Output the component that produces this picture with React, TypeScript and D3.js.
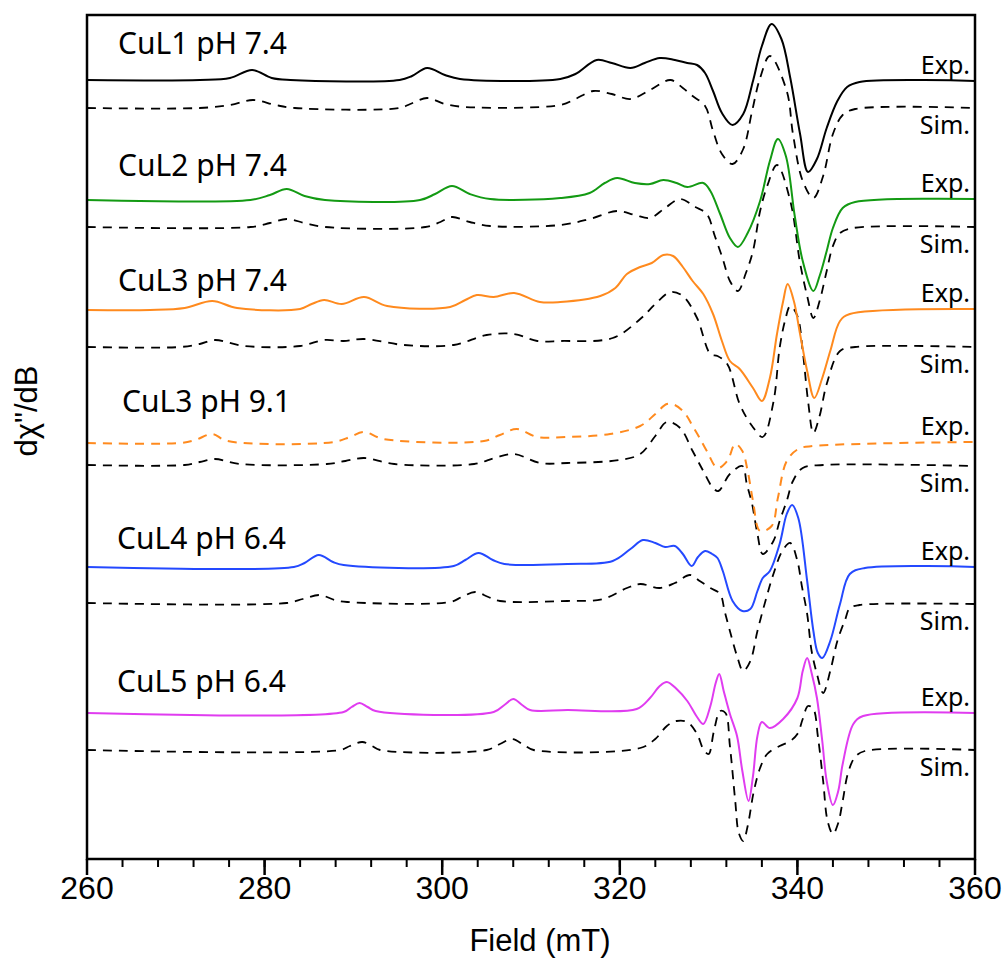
import React from "react";
import * as d3 from "d3";

// Field axis
const fieldTicks = [260, 280, 300, 320, 340, 360];
const minorTicks = d3.range(260, 361, 4);

// Spectra: [field (mT), intensity relative to baseline (a.u.)]
const cuL1Exp: [number, number][] = [
  [260, 0], [272.7, 0], [276.1, 2], [278.6, 10], [280.8, 2], [282.9, 0], [295.2, 0], [296.6, 4], [298.3, 12],
  [300.3, 5], [302, 1], [313.3, 1], [315, 6], [317.4, 20], [319.1, 17], [321.2, 12], [322.8, 17], [324.5, 22],
  [326.2, 20], [327.6, 17], [328.7, 15], [329.6, 7], [330.5, -11], [331.5, -33], [332.7, -45], [333.9, -34],
  [335, -1], [336, 34], [337.1, 56], [338.2, 41], [339.2, 2], [340.3, -54], [341.2, -92], [342.2, -79],
  [343.3, -48], [344.5, -21], [345.6, -7], [347, -2], [360, -1],
];
const cuL1Sim: [number, number][] = [
  [260, 0], [272.7, 0], [276.1, 3], [278.7, 8], [281.2, 3], [283.4, 0], [295.2, 0], [296.4, 4], [298.3, 10],
  [300.3, 4], [302.6, 1], [313.3, 3], [315, 9], [317, 17], [319.1, 14], [321.2, 9], [323.4, 18], [325.7, 28],
  [327.1, 20], [328.2, 12], [329.6, 2], [330.5, -23], [331.5, -46], [332.7, -56], [333.9, -41], [334.9, -3],
  [335.8, 30], [336.9, 52], [338.8, 17], [339.5, -26], [340.6, -73], [341.8, -90], [342.9, -68], [344, -26],
  [345.1, -7], [346.5, -1], [360, 0],
];
const cuL2Exp: [number, number][] = [
  [260, 0], [278.4, 0], [280.6, 5], [282.5, 11], [284.5, 4], [286.8, 0], [297.5, 0], [299.2, 6], [301.1, 14],
  [303.1, 6], [305.4, 1], [313.3, 2], [316.6, 7], [318.3, 17], [319.7, 22], [321.7, 17], [323.4, 16],
  [324.9, 20], [326.4, 17], [327.6, 13], [329.4, 17], [330.2, 9], [331.3, -14], [332.4, -38], [333.3, -47],
  [334.4, -33], [335.8, -1], [336.9, 39], [337.8, 61], [338.7, 44], [339.7, -16], [340.6, -61], [341.8, -91],
  [342.5, -76], [343.3, -51], [344, -28], [345.1, -8], [346.5, -2], [360, 1],
];
const cuL2Sim: [number, number][] = [
  [260, 0], [278.4, 0], [280.6, 4], [282.5, 8], [284.5, 4], [286.8, 0], [298.1, 0], [299.8, 5], [301.1, 10],
  [303.1, 5], [305.4, 1], [313.3, 2], [316.6, 8], [319.7, 16], [321.7, 12], [323.4, 9], [325.1, 19],
  [326.8, 28], [328.5, 20], [329.8, 13], [330.7, -9], [331.6, -32], [332.4, -54], [333.3, -64], [334.2, -46],
  [335, -24], [335.8, 16], [336.6, 41], [337.7, 62], [339.2, 26], [340.3, -36], [341.1, -69], [341.8, -91],
  [342.5, -74], [343.3, -44], [344, -19], [344.8, -6], [346.3, -1], [360, 0],
];
const cuL3Exp: [number, number][] = [
  [260, 0], [267.1, 0], [271, 2], [274.1, 9], [276.9, 2], [284, 1], [285.3, 6], [286.7, 10], [288.7, 6],
  [291.2, 13], [293.8, 4], [300.9, 3], [302.6, 10], [303.9, 15], [305.8, 13], [308.1, 17], [311, 8],
  [313.3, 8], [317.8, 14], [319.5, 22], [320.8, 36], [322.3, 43], [323.6, 47], [324.9, 55], [326, 54],
  [327.1, 43], [328.2, 29], [329.4, 16], [330.5, -4], [331.5, -31], [332.4, -51], [333.5, -59], [335, -78],
  [336, -91], [336.9, -68], [337.7, -24], [338.4, 9], [338.9, 26], [339.6, 9], [340.3, -24], [341.1, -61],
  [341.9, -88], [342.8, -68], [343.7, -41], [344.8, -11], [345.9, -4], [360, 1],
];
const cuL3Sim: [number, number][] = [
  [260, 0], [270.5, 0], [272.7, 3], [274.4, 7], [277.7, 1], [284, 1], [286.7, 7], [288.9, 6], [291.2, 8],
  [295.7, 2], [301.3, 2], [305, 12], [308.1, 13], [310.7, 6], [313.3, 6], [319.2, 9], [322.3, 28], [324, 43],
  [325.7, 55], [327.1, 51], [328.7, 29], [330.2, -7], [331, -9], [332.1, -17], [333.5, -57], [334.9, -79],
  [336.1, -90], [337.3, -55], [338, -1], [338.6, 26], [339.2, 41], [340, 31], [340.6, -4], [341.2, -54],
  [341.8, -86], [342.5, -69], [343.3, -37], [344.8, -4], [346.5, 0], [360, 0],
];
const cuL3hExp: [number, number][] = [
  [260, 0], [270.5, 0], [272.2, 3], [274.1, 9], [275.8, 2], [287.8, 1], [289.6, 6], [291.2, 11], [293.4, 4],
  [304.7, 2], [306.5, 8], [308.4, 14], [310.7, 6], [314.1, 6], [318.9, 9], [322.3, 17], [324, 29],
  [325.3, 39], [326.2, 38], [327.3, 30], [328.2, 17], [329, 5], [329.8, -8], [331, -25], [332.1, -18],
  [333, -1], [333.8, -8], [334.4, -28], [335, -58], [335.8, -88], [337.1, -83], [337.8, -55], [338.8, -18],
  [340.1, -6], [341.8, -3], [360, 1],
];
const cuL3hSim: [number, number][] = [
  [260, 0], [271, 0], [272.7, 3], [274.4, 6], [277.2, 1], [287, 1], [289.1, 4], [291.2, 7], [294.6, 1],
  [303.6, 1], [305.9, 7], [308.1, 11], [311, 2], [314.1, 2], [320, 5], [322.3, 11], [324, 29], [325.3, 43],
  [326.8, 37], [328.2, 14], [329.4, -6], [330.5, -23], [331.1, -26], [332.4, -9], [333.8, -1], [334.3, -19],
  [334.9, -39], [335.5, -69], [336.1, -89], [337.3, -76], [338, -56], [338.8, -36], [339.5, -16],
  [340.6, -3], [342.9, 0], [360, -1],
];
const cuL4Exp: [number, number][] = [
  [260, 0], [283.3, 0], [284.5, 4], [286.1, 12], [287.7, 5], [288.9, 2], [301.3, 1], [302.6, 7], [304.1, 14],
  [305.7, 7], [307, 3], [314.1, 3], [319.2, 6], [321.2, 18], [322.6, 27], [324, 24], [325.1, 20], [326.2, 21],
  [327.1, 13], [328.1, 1], [328.8, 10], [329.6, 16], [330.4, 13], [331, 9], [331.6, -4], [332.7, -34],
  [333.8, -44], [334.7, -42], [335.5, -24], [336.1, -11], [336.9, -4], [338, 23], [338.8, 53], [339.4, 62],
  [340.1, 49], [341.1, -14], [341.8, -64], [342.3, -86], [342.8, -91], [343.7, -74], [344.8, -37],
  [345.9, -7], [347.6, -1], [360, 0],
];
const cuL4Sim: [number, number][] = [
  [260, 0], [282.5, 0], [284.3, 4], [286.2, 8], [287.9, 3], [289.3, 1], [300.9, 1], [302.2, 6], [303.7, 11],
  [305.2, 6], [306.5, 2], [314.1, 2], [318.1, 4], [320.8, 15], [322.3, 19], [324.5, 15], [326.2, 20],
  [327.9, 28], [329, 22], [330.2, 15], [331.3, 9], [331.8, -8], [332.4, -28], [333.2, -53], [333.9, -68],
  [334.7, -58], [335.5, -28], [336.4, 2], [337.3, 29], [338.3, 52], [339.2, 60], [340, 42], [340.5, 17],
  [341.1, -11], [341.6, -48], [342.2, -71], [342.9, -90], [343.7, -68], [344.5, -38], [345.4, -16],
  [345.9, -5], [347, -2], [360, -1],
];
const cuL5Exp: [number, number][] = [
  [260, 0], [288.9, 1], [289.8, 6], [290.7, 10], [291.6, 6], [292.5, 2], [305.8, 1], [307, 8], [308, 14],
  [309, 8], [309.9, 3], [314.1, 3], [321.9, 4], [323.4, 15], [324.5, 27], [325.3, 31], [326.4, 24],
  [327.6, 12], [328.7, -4], [329.4, -11], [330.2, 7], [330.8, 30], [331.2, 39], [331.7, 22], [332.4, -1],
  [333.2, -23], [333.8, -58], [334.5, -88], [335, -63], [335.5, -23], [336, -9], [336.9, -15], [338.4, -6],
  [340, 15], [340.6, 42], [341.1, 55], [341.6, 40], [342.2, 15], [342.8, -28], [343.3, -68], [344, -92],
  [344.6, -78], [345.1, -51], [346.3, -11], [347.4, -3], [360, 0],
];
const cuL5Sim: [number, number][] = [
  [260, 0], [288.5, 0], [289.6, 4], [291, 8], [292.1, 4], [293, 0], [305, 0], [306.5, 6], [307.9, 11],
  [309.2, 5], [310.3, 0], [322.3, 2], [324, 11], [325.3, 24], [326.4, 29], [327.6, 28], [328.7, 16],
  [329.4, 1], [330, -4], [330.6, 19], [331.3, 39], [331.9, 37], [332.4, 4], [333, -51], [333.4, -83],
  [333.9, -91], [334.4, -76], [335.1, -41], [335.8, -18], [336.6, -4], [338, 4], [339.2, 9], [340, 16],
  [340.6, 31], [341.2, 44], [341.8, 41], [342.3, 14], [342.9, -31], [343.4, -71], [344, -84], [344.6, -73],
  [345.1, -51], [345.7, -23], [346.5, -7], [347.6, -1], [360, 0],
];

// Sample names and vertical offsets (a.u.)
const sampleNames = ["CuL1 pH 7.4", "CuL2 pH 7.4", "CuL3 pH 7.4", "CuL3 pH 9.1", "CuL4 pH 6.4", "CuL5 pH 6.4"];
const expSeries = [cuL1Exp, cuL2Exp, cuL3Exp, cuL3hExp, cuL4Exp, cuL5Exp];
const simSeries = [cuL1Sim, cuL2Sim, cuL3Sim, cuL3hSim, cuL4Sim, cuL5Sim];
const expOffsets = [779, 659, 549, 416, 292, 146];
const simOffsets = [751, 632, 512, 394, 256, 109];

// styles / layout
const expColors = ["#000000", "#139a13", "#ff8a1e", "#ff8a1e", "#2449ff", "#e03cf0"];
const expDashed = [false, false, false, true, false, false];
const nameGap = [26, 24, 19, 31, 18, 21];
const nameX = [118, 118, 118, 122, 117, 117];

const W = 1005;
const H = 959;
const M = { left: 87, right: 975, top: 15, bottom: 859 };

export default function App() {
  const x = d3.scaleLinear().domain([260, 360]).range([M.left, M.right]);
  const y = d3.scaleLinear().domain([0, 844]).range([M.bottom, M.top]);

  const mkLine = (off: number) =>
    d3
      .line<[number, number]>()
      .x((d) => x(d[0]))
      .y((d) => y(d[1] + off))
      .curve(d3.curveCatmullRom.alpha(0.5));

  const sansLabel = "'Noto Sans', 'Open Sans', sans-serif";
  const axisFont = "'Liberation Sans', Arial, sans-serif";

  return (
    <svg
      width={W}
      height={H}
      style={{ position: "absolute", left: 0, top: 0, background: "#fff" }}
    >
      <rect x={0} y={0} width={W} height={H} fill="#fff" />
      {simSeries.map((s, i) => (
        <path
          key={"sim" + i}
          d={mkLine(simOffsets[i])(s) || ""}
          fill="none"
          stroke="#000"
          strokeWidth={1.8}
          strokeDasharray="9 7"
        />
      ))}
      {expSeries.map((s, i) => (
        <path
          key={"exp" + i}
          d={mkLine(expOffsets[i])(s) || ""}
          fill="none"
          stroke={expColors[i]}
          strokeWidth={2}
          strokeDasharray={expDashed[i] ? "9 7" : undefined}
        />
      ))}
      {sampleNames.map((n, i) => (
        <text
          key={"n" + i}
          x={nameX[i]}
          y={y(expOffsets[i]) - nameGap[i]}
          fontFamily={sansLabel}
          fontSize={30}
          fill="#000"
        >
          {n}
        </text>
      ))}
      {expSeries.map((s, i) => (
        <text
          key={"e" + i}
          x={970}
          y={y(expOffsets[i] + s[s.length - 1][1]) - 7}
          textAnchor="end"
          fontFamily={sansLabel}
          fontSize={25}
        >
          Exp.
        </text>
      ))}
      {simSeries.map((s, i) => (
        <text
          key={"s" + i}
          x={970}
          y={y(simOffsets[i] + s[s.length - 1][1]) + 26}
          textAnchor="end"
          fontFamily={sansLabel}
          fontSize={25}
        >
          Sim.
        </text>
      ))}
      {/* frame */}
      <rect
        x={M.left}
        y={M.top}
        width={M.right - M.left}
        height={M.bottom - M.top}
        fill="none"
        stroke="#000"
        strokeWidth={2.5}
      />
      {minorTicks.map((t) => (
        <line key={"m" + t} x1={x(t)} x2={x(t)} y1={M.bottom} y2={M.bottom + 8} stroke="#000" strokeWidth={2} />
      ))}
      {fieldTicks.map((t) => (
        <g key={"t" + t}>
          <line x1={x(t)} x2={x(t)} y1={M.bottom} y2={M.bottom + 16} stroke="#000" strokeWidth={2.5} />
          <text x={x(t)} y={M.bottom + 40} textAnchor="middle" fontFamily={axisFont} fontSize={32}>
            {t}
          </text>
        </g>
      ))}
      <text x={540} y={951} textAnchor="middle" fontFamily={axisFont} fontSize={31}>
        Field (mT)
      </text>
      <text
        transform={`translate(37, 411) rotate(-90)`}
        textAnchor="middle"
        fontFamily={axisFont}
        fontSize={31}
      >
        {"dχ\"/dB"}
      </text>
    </svg>
  );
}
